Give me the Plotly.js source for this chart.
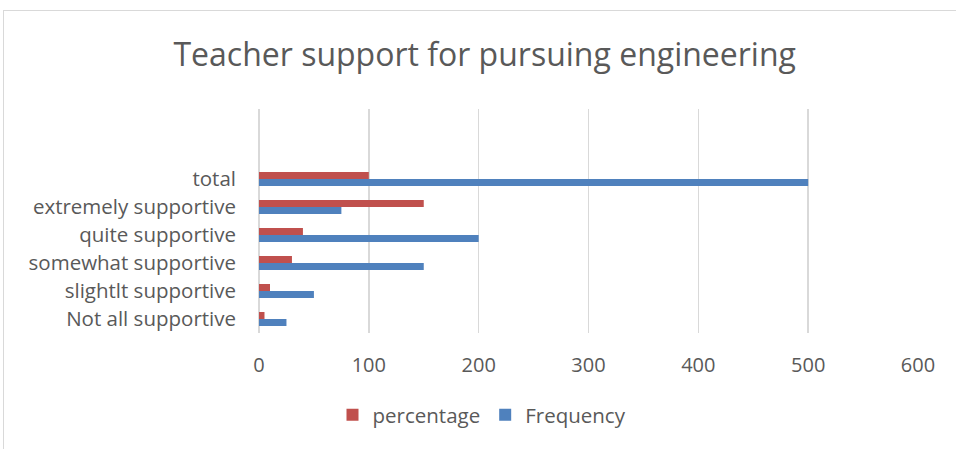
<!DOCTYPE html>
<html>
<head>
<meta charset="utf-8">
<script src="https://cdn.plot.ly/plotly-3.0.1.min.js"></script>
<style>
  html, body { margin: 0; padding: 0; background: #fff; }
  #wrap { position: relative; width: 956px; height: 449px; overflow: hidden; }
  #chart { position: absolute; left: 0; top: 0; width: 956px; height: 449px; }
  #frame { position: absolute; left: 3px; top: 10px; width: 960px; height: 450px;
           border-left: 1px solid #d9d9d9; border-top: 1px solid #d9d9d9; pointer-events: none; }
</style>
</head>
<body>
<div id="wrap">
  <div id="chart"></div>
  <div id="frame"></div>
</div>
<script>
// Categories listed bottom to top
const categories = ["Not all supportive", "slightlt supportive", "somewhat supportive",
                    "quite supportive", "extremely supportive", "total"];
const frequency  = [25, 50, 150, 200, 75, 500];
const percentage = [5, 10, 30, 40, 150, 100];
const xTicks = [0, 100, 200, 300, 400, 500, 600];

const font = "Open Sans, Liberation Sans, sans-serif";
const grey = "#595959";

const traces = [
  { type: "bar", orientation: "h", name: "Frequency", y: categories, x: frequency,
    marker: { color: "#4F81BD" }, hoverinfo: "x+y" },
  { type: "bar", orientation: "h", name: "percentage", y: categories, x: percentage,
    marker: { color: "#C0504D" }, hoverinfo: "x+y" }
];

const layout = {
  width: 956, height: 449,
  paper_bgcolor: "rgba(0,0,0,0)", plot_bgcolor: "rgba(0,0,0,0)",
  margin: { l: 259, r: 38, t: 109, b: 116 },
  barmode: "group", bargap: 0.5, bargroupgap: 0,
  font: { family: font, color: grey, size: 18 },
  title: { text: "Teacher support for pursuing engineering",
           font: { family: font, size: 32, color: grey },
           xref: "container", x: 0.507, xanchor: "center",
           yref: "container", y: 1 - 55 / 449, yanchor: "middle" },
  xaxis: { range: [0, 600], tickvals: xTicks, ticktext: xTicks.map(String),
           showgrid: true, gridcolor: "#D9D9D9", gridwidth: 1.5,
           zeroline: true, zerolinecolor: "#D9D9D9", zerolinewidth: 1.5,
           showline: false, ticks: "", ticklabelstandoff: 18,
           tickfont: { family: font, size: 20, color: grey }, fixedrange: true },
  yaxis: { type: "category", categoryorder: "array", categoryarray: categories,
           range: [-0.5, 7.5], showgrid: false, zeroline: false, showline: false,
           ticks: "", ticklabelstandoff: 22,
           tickfont: { family: font, size: 20.5, color: grey }, fixedrange: true },
  showlegend: true,
  legend: { orientation: "h", traceorder: "reversed",
            xref: "container", x: 482 / 956, xanchor: "center",
            yref: "container", y: 1 - 415 / 449, yanchor: "middle",
            font: { family: font, size: 20.5, color: grey },
            itemwidth: 30, bgcolor: "rgba(0,0,0,0)" }
};

Plotly.newPlot("chart", traces, layout, { displayModeBar: false, staticPlot: true });
</script>
</body>
</html>
